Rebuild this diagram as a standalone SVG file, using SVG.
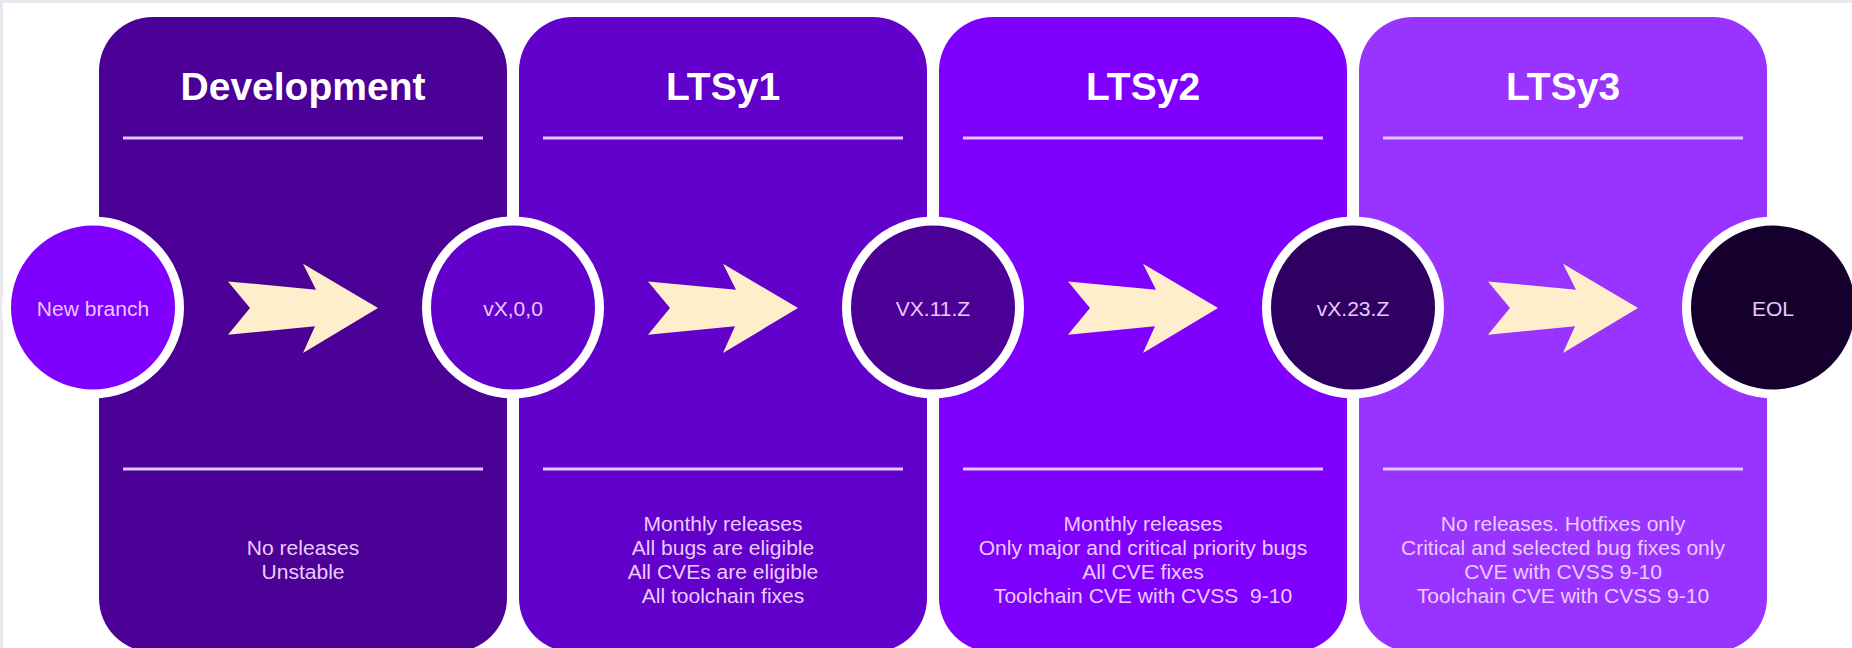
<svg xmlns="http://www.w3.org/2000/svg" width="1852" height="648" viewBox="0 0 1852 648">
<style>
  .title { font-family: "Liberation Sans", Arial, sans-serif; font-weight: bold; font-size: 39px; fill: #ffffff; text-anchor: middle; }
  .body { font-family: "Liberation Sans", Arial, sans-serif; font-size: 19.5px; fill: #ebcbff; text-anchor: middle; }
  .ctext { font-family: "Liberation Sans", Arial, sans-serif; font-size: 19.5px; fill: #e8c8ff; text-anchor: middle; }
  .rule { stroke: #e4c6ff; stroke-width: 3; }
  .ring { stroke: #ffffff; stroke-width: 9; }
  .arrow { fill: #ffeecb; }
</style>
<defs>
  <path id="arr" d="M -150 -26.6 L -62 -18.3 L -75 -44.3 L 0 0 L -75 45 L -63 18.3 L -150 26.7 L -128 0 Z"/>
</defs>
<rect x="0" y="0" width="1852" height="648" fill="#ffffff"/>
<rect x="0" y="0" width="1852" height="3" fill="#e8e8ee"/>
<rect x="0" y="0" width="3" height="648" fill="#e8e8ee"/>

<g id="development">
  <rect x="99" y="17" width="408" height="635" rx="54" fill="#4b0096"/>
  <text class="title" x="303" y="100">Development</text>
  <line class="rule" x1="123" y1="138" x2="483" y2="138"/>
  <line class="rule" x1="123" y1="469" x2="483" y2="469"/>
  <g transform="translate(303 0) scale(1.08 1)">
    <text class="body" x="0" y="555">No releases</text>
    <text class="body" x="0" y="579">Unstable</text>
  </g>
</g>

<g id="ltsy1">
  <rect x="519" y="17" width="408" height="635" rx="54" fill="#6200cc"/>
  <text class="title" x="723" y="100">LTSy1</text>
  <line class="rule" x1="543" y1="138" x2="903" y2="138"/>
  <line class="rule" x1="543" y1="469" x2="903" y2="469"/>
  <g transform="translate(723 0) scale(1.08 1)">
    <text class="body" x="0" y="531">Monthly releases</text>
    <text class="body" x="0" y="555">All bugs are eligible</text>
    <text class="body" x="0" y="579">All CVEs are eligible</text>
    <text class="body" x="0" y="603">All toolchain fixes</text>
  </g>
</g>

<g id="ltsy2">
  <rect x="939" y="17" width="408" height="635" rx="54" fill="#7f00ff"/>
  <text class="title" x="1143" y="100">LTSy2</text>
  <line class="rule" x1="963" y1="138" x2="1323" y2="138"/>
  <line class="rule" x1="963" y1="469" x2="1323" y2="469"/>
  <g transform="translate(1143 0) scale(1.08 1)">
    <text class="body" x="0" y="531">Monthly releases</text>
    <text class="body" x="0" y="555">Only major and critical priority bugs</text>
    <text class="body" x="0" y="579">All CVE fixes</text>
    <text class="body" x="0" y="603" xml:space="preserve">Toolchain CVE with CVSS  9-10</text>
  </g>
</g>

<g id="ltsy3">
  <rect x="1359" y="17" width="408" height="635" rx="54" fill="#9933ff"/>
  <text class="title" x="1563" y="100">LTSy3</text>
  <line class="rule" x1="1383" y1="138" x2="1743" y2="138"/>
  <line class="rule" x1="1383" y1="469" x2="1743" y2="469"/>
  <g transform="translate(1563 0) scale(1.08 1)">
    <text class="body" x="0" y="531">No releases. Hotfixes only</text>
    <text class="body" x="0" y="555">Critical and selected bug fixes only</text>
    <text class="body" x="0" y="579">CVE with CVSS 9-10</text>
    <text class="body" x="0" y="603">Toolchain CVE with CVSS 9-10</text>
  </g>
</g>

<g id="connectors">
  <use href="#arr" class="arrow" transform="translate(378 308)"/>
  <use href="#arr" class="arrow" transform="translate(798 308)"/>
  <use href="#arr" class="arrow" transform="translate(1218 308)"/>
  <use href="#arr" class="arrow" transform="translate(1638 308)"/>
</g>

<g id="new-branch">
  <circle class="ring" cx="93" cy="307.5" r="86.5" fill="#7f00ff"/>
  <g transform="translate(93 0) scale(1.08 1)"><text class="ctext" x="0" y="316">New branch</text></g>
</g>
<g id="vx-0-0">
  <circle class="ring" cx="513" cy="307.5" r="86.5" fill="#6200cc"/>
  <g transform="translate(513 0) scale(1.08 1)"><text class="ctext" x="0" y="316">vX,0,0</text></g>
</g>
<g id="vx-11-z">
  <circle class="ring" cx="933" cy="307.5" r="86.5" fill="#4b0096"/>
  <g transform="translate(933 0) scale(1.08 1)"><text class="ctext" x="0" y="316">VX.11.Z</text></g>
</g>
<g id="vx-23-z">
  <circle class="ring" cx="1353" cy="307.5" r="86.5" fill="#2e0061"/>
  <g transform="translate(1353 0) scale(1.08 1)"><text class="ctext" x="0" y="316">vX.23.Z</text></g>
</g>
<g id="eol">
  <circle class="ring" cx="1773" cy="307.5" r="86.5" fill="#15002d"/>
  <g transform="translate(1773 0) scale(1.08 1)"><text class="ctext" x="0" y="316">EOL</text></g>
</g>
</svg>
